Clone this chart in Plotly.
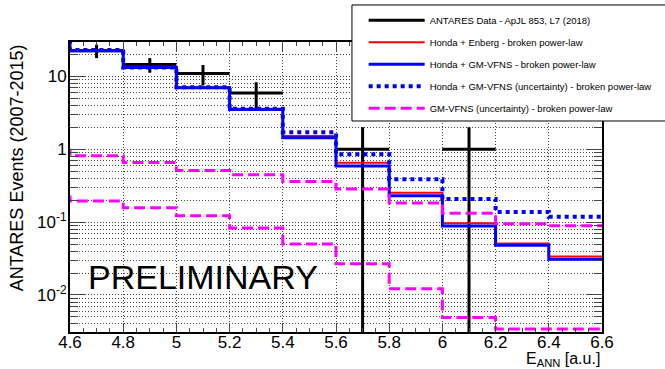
import math
import plotly.graph_objects as go

# Bin edges of E_ANN (the first bin, 4.4-4.6, lies left of the displayed range)
edges = [4.4, 4.6, 4.8, 5.0, 5.2, 5.4, 5.6, 5.8, 6.0, 6.2, 6.4, 6.6]

# Expected events per bin, broken power-law flux
honda_enberg = [40.0, 22.7, 13.5, 7.1, 3.6, 1.52, 0.65, 0.252, 0.096, 0.051, 0.0336]
honda_gmvfns = [40.0, 22.5, 13.2, 7.0, 3.5, 1.44, 0.59, 0.229, 0.088, 0.048, 0.031]
honda_gmvfns_unc = [45.0, 22.9, 13.2, 7.1, 3.6, 1.71, 0.854, 0.388, 0.207, 0.138, 0.118]
gmvfns_unc_high = [0.97, 0.81, 0.657, 0.51, 0.445, 0.36, 0.285, 0.182, 0.132, 0.095, 0.089]
gmvfns_unc_low = [0.22, 0.194, 0.157, 0.122, 0.083, 0.050, 0.0267, 0.0122, 0.0049, 0.0034, 0.0034]

# ANTARES data points (bin centres, counts, errors)
data_x = [4.7, 4.9, 5.1, 5.3, 5.7, 6.1]
data_y = [22.5, 14.5, 10.9, 5.9, 1.0, 1.0]
data_err = [4.7, 3.3, 3.4, 2.4, 1.0, 1.0]
bin_half = 0.1

y_min, y_max = 0.0031, 29.6
floor_val = 1e-4  # lower error bars reaching zero run off the bottom of the log axis

font_main = "Liberation Sans"


def step_xy(vals):
    return edges, vals + [vals[-1]]


fig = go.Figure()

# data crosses
dx, dy = [], []
for c, v, e in zip(data_x, data_y, data_err):
    lo = v - e if v - e > 0 else floor_val
    dx += [c - bin_half, c + bin_half, None, c, c, None]
    dy += [v, v, None, lo, v + e, None]
fig.add_trace(go.Scatter(
    x=dx, y=dy, mode="lines", line=dict(color="black", width=3),
    name="ANTARES Data - ApJL 853, L7 (2018)", legendgroup="g0"))

series = [
    (honda_enberg, "Honda + Enberg - broken power-law", dict(color="#ff0000", width=2), True, "g1"),
    (honda_gmvfns, "Honda + GM-VFNS - broken power-law", dict(color="#0000ff", width=3), True, "g2"),
    (honda_gmvfns_unc, "Honda + GM-VFNS (uncertainty) - broken power-law",
     dict(color="#0000ff", width=4, dash="4px,4px"), True, "g3"),
    (gmvfns_unc_high, "GM-VFNS (uncertainty) - broken power-law",
     dict(color="#ff00ff", width=3, dash="11px,5px"), True, "g4"),
    (gmvfns_unc_low, "GM-VFNS (uncertainty) - broken power-law",
     dict(color="#ff00ff", width=3, dash="11px,5px"), False, "g4"),
]
for vals, name, line, show, grp in series:
    x, y = step_xy(vals)
    fig.add_trace(go.Scatter(x=x, y=y, mode="lines", line_shape="hv", line=line,
                             name=name, showlegend=show, legendgroup=grp))

grid = dict(showgrid=True, gridcolor="#444444", griddash="1px,2px", gridwidth=1)

fig.update_xaxes(
    range=[4.6, 6.6], dtick=0.2, tick0=4.6, ticks="inside", ticklen=9, tickwidth=1,
    showline=True, linecolor="black", linewidth=2, mirror="ticks",
    tickfont=dict(family=font_main, size=17, color="black"),
    ticklabelstandoff=-6,
    minor=dict(dtick=0.05, ticks="inside", ticklen=4, showgrid=False),
    zeroline=False, **grid)

fig.update_yaxes(
    type="log", range=[math.log10(y_min), math.log10(y_max)],
    tickvals=[0.01, 0.1, 1, 10], ticktext=["10<sup>-2</sup>", "10<sup>-1</sup>", "1", "10"],
    ticks="inside", ticklen=16, tickwidth=1,
    showline=True, linecolor="black", linewidth=2, mirror="ticks",
    tickfont=dict(family=font_main, size=17, color="black"),
    ticklabelstandoff=-2,
    minor=dict(dtick="D1", ticks="inside", ticklen=8, showgrid=True,
               gridcolor="#444444", griddash="1px,2px"),
    zeroline=False, **grid)

fig.update_layout(
    width=665, height=369,
    margin=dict(l=70, r=63, t=42, b=37, autoexpand=False),
    plot_bgcolor="white", paper_bgcolor="white",
    showlegend=True,
    legend=dict(x=0.552, y=1.125, xanchor="left", yanchor="top",
                bgcolor="rgba(0,0,0,0)", borderwidth=0,
                font=dict(family=font_main, size=9.5, color="black"),
                itemwidth=56, tracegroupgap=3, traceorder="grouped"),
    shapes=[dict(type="rect", xref="paper", yref="paper",
                 x0=0.530, x1=1.2, y0=0.7276, y1=1.1276,
                 fillcolor="white", line=dict(color="black", width=1), layer="above")],
    annotations=[
        dict(text="PRELIMINARY", xref="paper", yref="paper", x=0.031, y=0.118,
             xanchor="left", yanchor="bottom", showarrow=False,
             font=dict(family=font_main, size=34, color="black")),
        dict(text="ANTARES Events (2007-2015)", xref="paper", yref="paper",
             x=-0.1, y=1.0, xanchor="center", yanchor="top", textangle=-90,
             showarrow=False, font=dict(family=font_main, size=18, color="black")),
        dict(text="E<sub>ANN</sub> [a.u.]", xref="paper", yref="paper",
             x=1.0, y=-0.095, xanchor="right", yanchor="middle", showarrow=False,
             font=dict(family=font_main, size=16, color="black")),
    ],
)

fig.write_html("out.html")
